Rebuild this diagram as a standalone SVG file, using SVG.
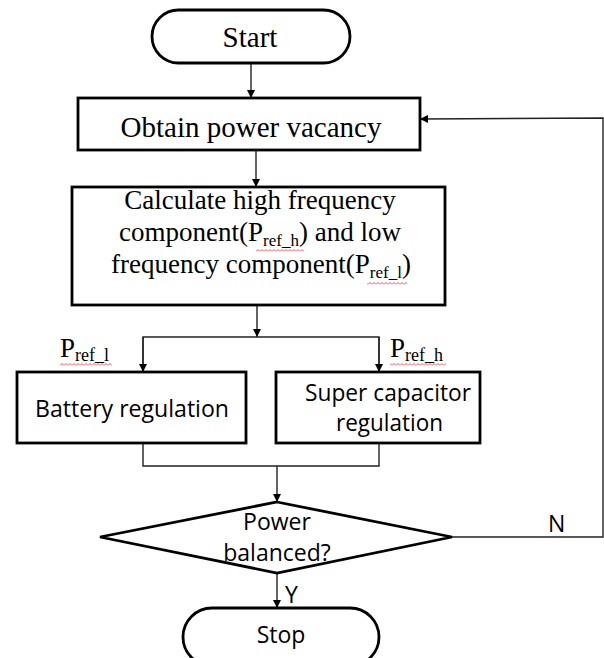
<svg xmlns="http://www.w3.org/2000/svg" width="604" height="658" viewBox="0 0 604 658">
<style>
.box{fill:#fff;stroke:#000;stroke-width:2.8}
.ln{fill:none;stroke:#222;stroke-width:1.4}
.ser{font-family:"Liberation Serif","Times New Roman",serif;fill:#000}
.sans{font-family:"Open Sans","Noto Sans","Liberation Sans",sans-serif;fill:#000}
</style>
<defs>
<marker id="ah" viewBox="0 0 10 10" refX="10" refY="5" markerWidth="8" markerHeight="8" markerUnits="userSpaceOnUse" orient="auto">
<path d="M0,0 L10,5 L0,10 z" fill="#000"/>
</marker>
<pattern id="sq" patternUnits="userSpaceOnUse" x="0" y="0" width="4" height="3">
<path d="M0,2.5 L2,0.5 L4,2.5" fill="none" stroke="#e23" stroke-width="0.8"/>
</pattern>
</defs>
<rect width="604" height="658" fill="#fff"/>

<g id="connectors">
<line class="ln" x1="251" y1="63" x2="251" y2="98" marker-end="url(#ah)"/>
<line class="ln" x1="256" y1="150" x2="256" y2="187" marker-end="url(#ah)"/>
<line class="ln" x1="257" y1="305" x2="257" y2="337" marker-end="url(#ah)"/>
<polyline class="ln" points="143,372 143,337 379,337 379,372"/>
<line class="ln" x1="143" y1="337" x2="143" y2="372" marker-end="url(#ah)"/>
<line class="ln" x1="379" y1="337" x2="379" y2="372" marker-end="url(#ah)"/>
<polyline class="ln" points="143,443 143,466 379,466 379,443" stroke="#555"/>
<line class="ln" x1="277" y1="466" x2="277" y2="502" marker-end="url(#ah)"/>
<line class="ln" x1="277" y1="573" x2="277" y2="608" marker-end="url(#ah)"/>
<polyline class="ln" points="452,537 603,537 603,118 420,119" stroke="#444" marker-end="url(#ah)"/>
</g>

<g id="start">
<rect class="box" x="152" y="10" width="198" height="53" rx="26.5"/>
<text class="ser" x="250" y="47" font-size="29" text-anchor="middle">Start</text>
</g>

<g id="obtain">
<rect class="box" x="78" y="98" width="342" height="52"/>
<text class="ser" x="251" y="137" font-size="29" text-anchor="middle">Obtain power vacancy</text>
</g>

<g id="calculate">
<rect class="box" x="72" y="187" width="373" height="118"/>
<text class="ser" x="260" y="209" font-size="27" text-anchor="middle">Calculate high frequency</text>
<text class="ser" x="260" y="241" font-size="27" text-anchor="middle">component(P<tspan font-size="17" dy="5">ref_h</tspan><tspan dy="-5">) and low</tspan></text>
<text class="ser" x="261" y="273" font-size="27" text-anchor="middle">frequency component(P<tspan font-size="17" dy="5">ref_l</tspan><tspan dy="-5">)</tspan></text>
<rect x="256" y="249" width="48" height="3" fill="url(#sq)"/>
<rect x="367" y="282" width="40" height="3" fill="url(#sq)"/>
</g>

<g id="label-pref-l">
<text class="ser" x="60" y="357" font-size="27">P<tspan font-size="18" dy="4">ref_l</tspan></text>
<rect x="60" y="363" width="52" height="3" fill="url(#sq)"/>
</g>

<g id="label-pref-h">
<text class="ser" x="390" y="357" font-size="27">P<tspan font-size="18" dy="4">ref_h</tspan></text>
<rect x="390" y="363" width="56" height="3" fill="url(#sq)"/>
</g>

<g id="battery">
<rect class="box" x="17" y="372" width="229" height="71"/>
<text class="sans" x="132" y="417" font-size="23" text-anchor="middle" textLength="194" lengthAdjust="spacingAndGlyphs">Battery regulation</text>
</g>

<g id="supercap">
<rect class="box" x="276" y="372" width="204" height="71"/>
<text class="sans" x="388" y="401" font-size="23" text-anchor="middle" textLength="166" lengthAdjust="spacingAndGlyphs">Super capacitor</text>
<text class="sans" x="389.5" y="431" font-size="23" text-anchor="middle" textLength="107" lengthAdjust="spacingAndGlyphs">regulation</text>
</g>

<g id="decision">
<polygon class="box" points="277,502 452,537 277,573 100,537"/>
<text class="sans" x="277" y="530" font-size="23" text-anchor="middle">Power</text>
<text class="sans" x="277" y="561" font-size="23" text-anchor="middle">balanced?</text>
</g>

<g id="labels">
<text class="sans" x="548" y="532" font-size="23">N</text>
<text class="sans" x="285" y="603" font-size="23">Y</text>
</g>

<g id="stop">
<rect class="box" x="183" y="608" width="196" height="58" rx="29"/>
<text class="sans" x="281" y="643" font-size="23" text-anchor="middle">Stop</text>
</g>
</svg>
